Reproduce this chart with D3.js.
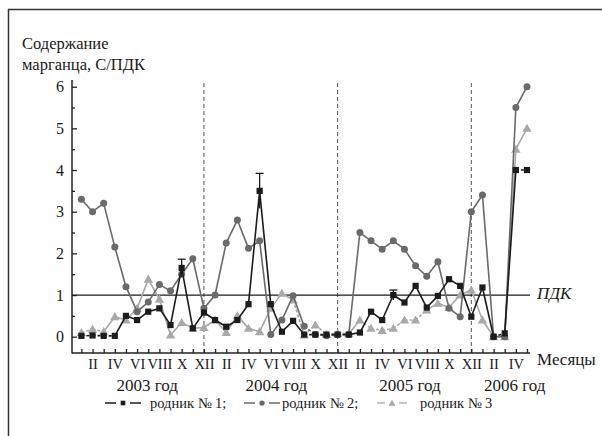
<!DOCTYPE html>
<html>
<head>
<meta charset="utf-8">
<script src="https://cdn.jsdelivr.net/npm/d3@7"></script>
<style>
  html, body { margin: 0; padding: 0; background: #fff; }
  svg text { font-family: "Liberation Serif", "Times New Roman", "DejaVu Serif", serif; fill: #1a1a1a; }
</style>
</head>
<body>
<div id="chart"></div>
<script>
// month index 0 = I 2003 ... 40 = V 2006
const romans = ['I', 'II', 'III', 'IV', 'V', 'VI', 'VII', 'VIII', 'IX', 'X', 'XI', 'XII'];
const years = ['2003 год', '2004 год', '2005 год', '2006 год'];
const yTicks = [0, 1, 2, 3, 4, 5, 6];
const pdk = 1;

// родник № 1
const spring1 = [0.02, 0.03, 0.02, 0.02, 0.5, 0.4, 0.6, 0.68, 0.28, 1.65, 0.2, 0.58,
  0.4, 0.24, 0.4, 0.78, 3.5, 0.78, 0.12, 0.38, 0.05, 0.05, 0.05, 0.05,
  0.05, 0.1, 0.6, 0.4, 1.0, 0.82, 1.22, 0.7, 0.98, 1.38, 1.22, 0.48,
  1.18, 0.0, 0.08, 4.0, 4.0];
// родник № 2
const spring2 = [3.3, 3.0, 3.2, 2.15, 1.2, 0.6, 0.83, 1.25, 1.1, 1.5, 1.87, 0.68,
  1.0, 2.25, 2.8, 2.12, 2.3, 0.05, 0.4, 0.98, 0.25, 0.05, 0.02, 0.05,
  0.05, 2.5, 2.3, 2.1, 2.3, 2.1, 1.7, 1.45, 1.8, 0.68, 0.48, 3.0,
  3.4, 0.0, 0.0, 5.5, 6.0];
// родник № 3
const spring3 = [0.1, 0.18, 0.12, 0.48, 0.4, 0.68, 1.38, 0.9, 0.04, 0.34, 0.2, 0.22,
  0.4, 0.1, 0.5, 0.2, 0.12, 0.68, 1.04, 0.88, 0.04, 0.28, 0.06, 0.08,
  0.07, 0.4, 0.2, 0.15, 0.2, 0.4, 0.4, 0.64, 0.8, 0.7, 1.0, 1.12,
  0.4, 0.0, 0.0, 4.5, 5.0];

// segments drawn dashed (index of the segment start)
const dashed1 = [0, 1, 2, 20, 21, 22, 23, 37, 39];
const dashed2 = [20, 21, 22, 23];
const dashed3 = [0, 1, 19, 20, 21, 22, 23, 25, 26, 27, 28, 29, 30];

// error bars of spring 1
const errIndex = [9, 16, 28];
const errValue = [0.21, 0.42, 0.12];

const names = ['родник № 1;', 'родник № 2;', 'родник № 3'];

const FONT = '"Liberation Serif", "Times New Roman", "DejaVu Serif", serif';
const W = 602, H = 436;
const svg = d3.select('#chart').append('svg')
  .attr('width', W).attr('height', H);

const x = d3.scaleLinear().domain([0, 40]).range([81.4, 527]);
const y = d3.scaleLinear().domain([0, 6]).range([336.7, 86.7]);
const axisY = 353;
const axisX = 72;

// frame
svg.append('path')
  .attr('d', `M8.5,${H}V9.5H${W}`)
  .attr('fill', 'none').attr('stroke', '#333').attr('stroke-width', 1.5);

// title
const title = svg.append('text').attr('x', 22).attr('font-size', 16.5);
title.append('tspan').attr('x', 22).attr('y', 49).text('Содержание');
title.append('tspan').attr('x', 22).attr('y', 70).text('марганца, С/ПДК');

// year separators
svg.selectAll('.sep').data([11, 23, 35]).join('line')
  .attr('class', 'sep')
  .attr('x1', (d) => x(d)).attr('x2', (d) => x(d))
  .attr('y1', 83).attr('y2', axisY)
  .attr('stroke', '#555').attr('stroke-width', 1)
  .attr('stroke-dasharray', '4,3');

// y axis
const gy = svg.append('g').attr('transform', `translate(${axisX},0)`);
gy.call(d3.axisLeft(y).tickValues(yTicks).tickSize(-5).tickPadding(8).tickFormat(d3.format('d')));
gy.append('g').call(d3.axisLeft(y).tickValues(d3.range(0.5, 6, 1)).tickSize(-3).tickFormat(''));
gy.selectAll('.domain').remove();
gy.attr('font-family', FONT);
gy.selectAll('line').attr('stroke', '#222').attr('stroke-width', 1.3);
gy.selectAll('text').attr('font-size', 16).attr('fill', '#1a1a1a');
svg.append('line')
  .attr('x1', axisX).attr('x2', axisX).attr('y1', 80).attr('y2', axisY + 0.6)
  .attr('stroke', '#222').attr('stroke-width', 1.5);

// x axis
const gx = svg.append('g').attr('transform', `translate(0,${axisY})`);
gx.call(d3.axisBottom(x).tickValues(d3.range(0, 41)).tickSize(-4).tickPadding(6)
  .tickFormat((d) => (d % 2 === 1 ? romans[d % 12] : '')));
gx.selectAll('.domain').remove();
gx.attr('font-family', FONT);
gx.selectAll('line').attr('stroke', '#222').attr('stroke-width', 1.3);
gx.selectAll('text').attr('font-size', 14.5).attr('fill', '#1a1a1a');
svg.append('line')
  .attr('x1', axisX).attr('x2', 530).attr('y1', axisY).attr('y2', axisY)
  .attr('stroke', '#222').attr('stroke-width', 1.5);

svg.append('text').attr('x', 537).attr('y', 365).attr('font-size', 17).text('Месяцы');

svg.selectAll('.year').data(years).join('text')
  .attr('class', 'year')
  .attr('x', (d, i) => x([5.9, 17.5, 29.5, 38.9][i]))
  .attr('y', 391)
  .attr('text-anchor', 'middle')
  .attr('font-size', 17)
  .text((d) => d);

// ПДК line
svg.append('line')
  .attr('x1', axisX).attr('x2', 530).attr('y1', y(pdk)).attr('y2', y(pdk))
  .attr('stroke', '#1a1a1a').attr('stroke-width', 1.2);
svg.append('text').attr('x', 537).attr('y', 299).attr('font-size', 17)
  .attr('font-style', 'italic').text('ПДК');

const series = [
  { values: spring3, dashed: dashed3, color: '#a9a9a9', shape: 'tri' },
  { values: spring2, dashed: dashed2, color: '#6a6a6a', shape: 'circle' },
  { values: spring1, dashed: dashed1, color: '#1c1c1c', shape: 'square' },
];

const line = d3.line().x((d) => x(d[0])).y((d) => y(d[1]));

function marker(g, shape, color, cx, cy, k = 1) {
  if (shape === 'square') {
    g.append('rect').attr('x', cx - 3.1 * k).attr('y', cy - 3.1 * k)
      .attr('width', 6.2 * k).attr('height', 6.2 * k).attr('fill', color);
  } else if (shape === 'circle') {
    g.append('circle').attr('cx', cx).attr('cy', cy).attr('r', 3.5 * k).attr('fill', color);
  } else {
    g.append('path').attr('d', d3.symbol().type(d3.symbolTriangle).size(38 * k * k)())
      .attr('transform', `translate(${cx},${cy + 0.8})`).attr('fill', color);
  }
}

series.forEach((s) => {
  const g = svg.append('g');
  const segs = d3.range(s.values.length - 1).map((i) => ({
    i, pts: [[i, s.values[i]], [i + 1, s.values[i + 1]]],
  }));
  g.selectAll('path.seg').data(segs).join('path')
    .attr('class', 'seg')
    .attr('d', (d) => line(d.pts))
    .attr('fill', 'none')
    .attr('stroke', s.color)
    .attr('stroke-width', 1.6)
    .attr('stroke-dasharray', (d) => (s.dashed.includes(d.i) ? '3,2' : null));

  if (s.shape === 'square') {
    errIndex.forEach((idx, k) => {
      const top = y(s.values[idx] + errValue[k]);
      g.append('line').attr('x1', x(idx)).attr('x2', x(idx))
        .attr('y1', y(s.values[idx] - errValue[k])).attr('y2', top)
        .attr('stroke', s.color).attr('stroke-width', 1.3);
      g.append('line').attr('x1', x(idx) - 4).attr('x2', x(idx) + 4)
        .attr('y1', top).attr('y2', top)
        .attr('stroke', s.color).attr('stroke-width', 1.3);
    });
  }

  s.values.forEach((v, i) => marker(g, s.shape, s.color, x(i), y(v)));
});

// legend
const legend = svg.append('g').attr('transform', 'translate(0,403)');
const legendX = [105, 244, 377];
const legendW = [36, 36, 30];
const legendText = [150, 282, 420];
[series[2], series[1], series[0]].forEach((s, i) => {
  const lx = legendX[i];
  const lw = legendW[i];
  legend.append('line').attr('x1', lx).attr('x2', lx + lw).attr('y1', 0).attr('y2', 0)
    .attr('stroke', s.color).attr('stroke-width', 1.3);
  legend.append('rect').attr('x', lx + lw / 2 - 7).attr('y', -3).attr('width', 14).attr('height', 6).attr('fill', '#fff');
  marker(legend, s.shape, s.color, lx + lw / 2, 0, 0.75);
  legend.append('text').attr('x', legendText[i]).attr('y', 5)
    .attr('font-size', 14.5).text(names[i]);
});
</script>
</body>
</html>
